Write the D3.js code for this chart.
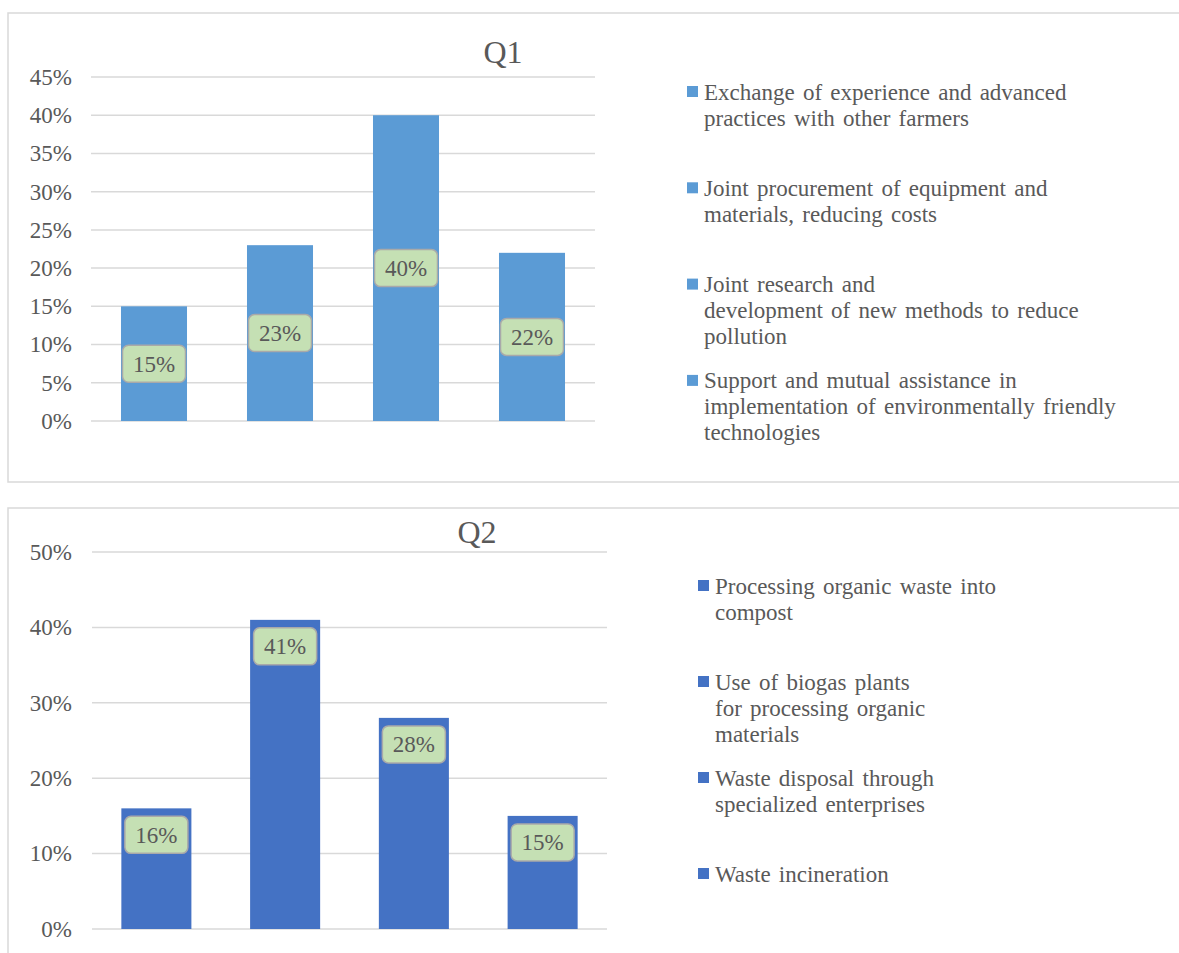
<!DOCTYPE html>
<html>
<head>
<meta charset="utf-8">
<script src="https://cdn.jsdelivr.net/npm/d3@7"></script>
<style>
  html, body { margin: 0; padding: 0; background: #fff; }
  svg { display: block; }
  text { font-family: "Liberation Serif", "Times New Roman", serif; fill: #595959; }
</style>
</head>
<body>
<svg id="chart" width="1179" height="953"></svg>
<script>
// ---- data ----
const q1Title = "Q1";
const q1Categories = [
  "Exchange of experience and advanced|practices with other farmers",
  "Joint procurement of equipment and|materials, reducing costs",
  "Joint research and|development of new methods to reduce|pollution",
  "Support and mutual assistance in|implementation of environmentally friendly|technologies"
];
const q1Values = [0.15, 0.23, 0.40, 0.22];
const q1Ticks = [0, 0.05, 0.10, 0.15, 0.20, 0.25, 0.30, 0.35, 0.40, 0.45];

const q2Title = "Q2";
const q2Categories = [
  "Processing organic waste into|compost",
  "Use of biogas plants|for processing organic|materials",
  "Waste disposal through|specialized enterprises",
  "Waste incineration"
];
const q2Values = [0.16, 0.41, 0.28, 0.15];
const q2Ticks = [0, 0.10, 0.20, 0.30, 0.40, 0.50];

// ---- drawing ----
const svg = d3.select("#chart");
const fmt = d3.format(".0%");

function panel(cfg) {
  const g = svg.append("g");
  // frame
  g.append("rect")
    .attr("x", cfg.frame[0]).attr("y", cfg.frame[1])
    .attr("width", cfg.frame[2]).attr("height", cfg.frame[3])
    .attr("fill", "none").attr("stroke", "#d9d9d9").attr("stroke-width", 1.5);

  const y = d3.scaleLinear().domain([0, cfg.ticks[cfg.ticks.length - 1]]).range([cfg.y0, cfg.y1]);
  const x = d3.scaleBand().domain(cfg.categories).range([cfg.x0, cfg.x1])
    .paddingInner(cfg.pad).paddingOuter(cfg.pad / 2);

  // gridlines
  g.append("g").selectAll("line").data(cfg.ticks).join("line")
    .attr("x1", cfg.x0).attr("x2", cfg.x1)
    .attr("y1", d => y(d)).attr("y2", d => y(d))
    .attr("stroke", "#d9d9d9").attr("stroke-width", 1.5);

  // y axis labels via d3 axis
  const axis = d3.axisLeft(y).tickValues(cfg.ticks).tickFormat(fmt).tickSize(0).tickPadding(0);
  const ag = g.append("g").attr("transform", `translate(${cfg.labelRight},0)`).call(axis);
  ag.select(".domain").remove();
  ag.selectAll("text").style("font-size", "23px").attr("fill", "#595959");

  // title
  g.append("text").attr("x", cfg.titleX).attr("y", cfg.titleY)
    .attr("text-anchor", "middle").style("font-size", "32px").text(cfg.title);

  // bars
  const data = cfg.categories.map((c, i) => ({ c, v: cfg.values[i] }));
  g.append("g").selectAll("rect").data(data).join("rect")
    .attr("x", d => x(d.c)).attr("width", x.bandwidth())
    .attr("y", d => y(d.v)).attr("height", d => y(0) - y(d.v))
    .attr("fill", cfg.color);

  // data labels
  const bw = 63, bh = 37;
  const lab = g.append("g").selectAll("g").data(data).join("g")
    .attr("transform", d => {
      const cx = x(d.c) + x.bandwidth() / 2;
      const cy = cfg.labelPos === "center" ? (y(d.v) + y(0)) / 2 : y(d.v) + 8 + bh / 2;
      return `translate(${cx},${cy})`;
    });
  lab.append("rect").attr("x", -bw / 2).attr("y", -bh / 2).attr("width", bw).attr("height", bh)
    .attr("rx", 6).attr("fill", "#c5e0b4").attr("stroke", "#a9a9a9").attr("stroke-width", 1.5);
  lab.append("text").attr("text-anchor", "middle").attr("dy", "0.35em")
    .style("font-size", "23px").text(d => fmt(d.v));

  // legend
  const lg = g.append("g").selectAll("g").data(data).join("g")
    .attr("transform", (d, i) => `translate(${cfg.legX},${cfg.legY + i * cfg.legStep})`);
  lg.append("rect").attr("x", 0).attr("y", -6).attr("width", 11).attr("height", 11).attr("fill", cfg.color);
  lg.append("text").attr("x", cfg.legTextDx).style("font-size", "23px").style("word-spacing", "2.5px")
    .selectAll("tspan").data(d => d.c.split("|")).join("tspan")
    .attr("x", cfg.legTextDx).attr("y", (t, j) => j * 26).attr("dy", "0.33em").text(t => t);
}

panel({
  frame: [8, 13, 1190, 469],
  title: q1Title, categories: q1Categories, values: q1Values, ticks: q1Ticks,
  y0: 421, y1: 77, x0: 91, x1: 595, pad: 0.476, labelRight: 72,
  titleX: 503, titleY: 63, color: "#5b9bd5", labelPos: "center",
  legX: 687, legY: 92, legStep: 96.3, legTextDx: 17
});

panel({
  frame: [8, 508, 1190, 470],
  title: q2Title, categories: q2Categories, values: q2Values, ticks: q2Ticks,
  y0: 929, y1: 552, x0: 92, x1: 607, pad: 0.456, labelRight: 72,
  titleX: 477, titleY: 543, color: "#4472c4", labelPos: "top",
  legX: 698, legY: 586, legStep: 96, legTextDx: 17
});
</script>
</body>
</html>
